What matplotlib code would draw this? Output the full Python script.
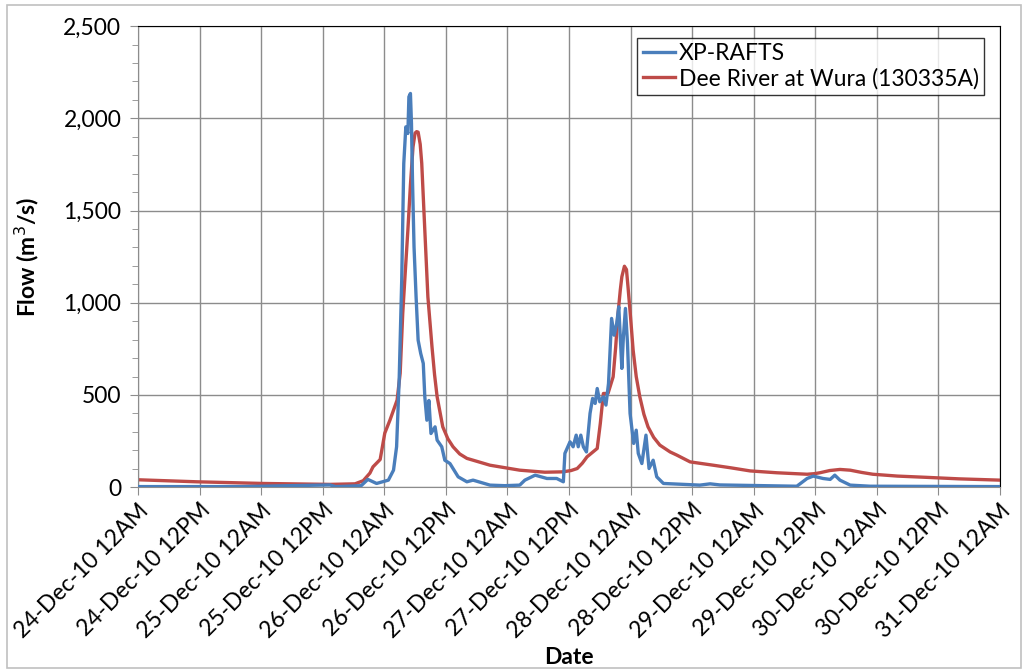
#!/usr/bin/env python3

import matplotlib
matplotlib.use("Agg")
import matplotlib.pyplot as plt
import matplotlib.dates as mdates
from matplotlib.ticker import MultipleLocator, FuncFormatter
from matplotlib.patches import Rectangle
import pandas as pd

plt.rcParams['font.family'] = ['Lato', 'DejaVu Sans']

start = pd.Timestamp("2010-12-24 00:00")

# XP-RAFTS model output (hours since start, flow m3/s)
rafts_hours = [0, 20, 37.4, 38.5, 43.5, 44.8, 46.5, 48.8, 49.8, 50.4, 50.9, 51.4, 51.8,
               52.2, 52.6, 52.8, 53.1, 53.3, 53.5, 53.8, 54.2, 54.6, 55.1, 55.6, 55.9,
               56.3, 56.7, 57.1, 57.9, 58.3, 59.2, 59.8, 60.8, 62.4, 64.1, 65.3, 68.6,
               71.5, 74.4, 75.4, 77.4, 79.7, 81.6, 82.9, 83.2, 84.2, 84.8, 85.4, 85.8,
               86.3, 86.8, 87.4, 88.1, 88.6, 89.1, 89.5, 90.0, 90.7, 91.2, 91.7, 92.3,
               92.8, 93.3, 93.7, 94.3, 94.6, 95.0, 95.4, 95.9, 96.6, 97.1, 97.5, 98.2,
               99.0, 99.6, 100.4, 101.1, 102.4, 109.5, 111.5, 113.4, 128.4, 130.4, 131.6,
               133.5, 134.9, 135.8, 136.8, 138.8, 142.7, 168]
rafts_flow = [3, 3, 12, 3, 8, 42, 20, 38, 92, 219, 580, 1123, 1755,
              1954, 1918, 2117, 2135, 1972, 1665, 1303, 1032, 797, 725, 671, 490,
              363, 470, 291, 327, 255, 219, 146, 128, 56, 29, 38, 11,
              8, 11, 38, 65, 47, 47, 29, 183, 246, 219, 282, 219,
              282, 219, 191, 400, 481, 454, 535, 463, 490, 445, 562, 915,
              824, 888, 978, 644, 815, 969, 779, 400, 237, 309, 183, 128,
              282, 101, 146, 56, 20, 11, 18, 12, 5, 47, 60,
              47, 42, 65, 38, 11, 5, 3]

# Dee River at Wura (130335A) gauge
gauge_hours = [0, 11.5, 24.4, 37.4, 42.3, 43.9, 45.2, 45.8, 47.2, 48.1, 49.1, 50.5,
               51.1, 51.6, 52.1, 52.6, 53.1, 53.6, 54.0, 54.3, 54.6, 55.0, 55.3, 55.9,
               56.5, 57.3, 57.8, 58.3, 59.4, 60.4, 61.4, 62.7, 64.1, 68.6, 74.4, 79.3,
               82.8, 84.4, 85.6, 86.6, 87.5, 89.5, 90.1, 90.7, 91.6, 92.6, 93.1, 93.5,
               94.0, 94.3, 94.8, 95.2, 95.5, 96.0, 96.5, 97.1, 97.8, 98.6, 99.4, 100.5,
               101.7, 103.7, 105.0, 107.6, 112.1, 115.5, 119.3, 124.5, 130.4, 131.8,
               132.9, 134.8, 136.8, 138.8, 141.0, 143.2, 148.0, 153.8, 160.0, 168]
gauge_flow = [40, 29, 20, 15, 18, 35, 76, 110, 150, 293, 363, 472,
              618, 943, 1170, 1394, 1640, 1845, 1920, 1928, 1925, 1860, 1757, 1394,
              1032, 761, 610, 490, 327, 262, 219, 180, 156, 119, 92, 81,
              83, 90, 101, 130, 164, 210, 345, 508, 508, 598, 760, 924,
              1070, 1141, 1198, 1180, 1086, 920, 743, 600, 490, 395, 327, 270,
              228, 191, 174, 137, 119, 105, 88, 78, 70, 73,
              78, 90, 96, 92, 80, 70, 60, 53, 45, 38]

rafts_t = start + pd.to_timedelta(rafts_hours, unit="h")
gauge_t = start + pd.to_timedelta(gauge_hours, unit="h")

fig = plt.figure(figsize=(10.22, 6.71), dpi=100)
ax = fig.add_axes([0.135, 0.274, 0.8435, 0.687])

ax.plot(rafts_t, rafts_flow, color='#4a7ebb', lw=2.4, label='XP-RAFTS', zorder=3)
ax.plot(gauge_t, gauge_flow, color='#be4b48', lw=2.4,
        label='Dee River at Wura (130335A)', zorder=2)

# axes limits and ticks
ax.set_xlim(start, start + pd.Timedelta(hours=168))
ax.set_ylim(0, 2500)
ax.xaxis.set_major_locator(mdates.HourLocator(byhour=[0, 12]))
ax.xaxis.set_major_formatter(mdates.DateFormatter('%d-%b-%y %I%p'))
ax.yaxis.set_major_locator(MultipleLocator(500))
ax.yaxis.set_minor_locator(MultipleLocator(100))
ax.yaxis.set_major_formatter(FuncFormatter(lambda v, p: f'{v:,.0f}'))

ax.grid(True, which='major', color='#8c8c8c', lw=1)
ax.set_axisbelow(True)

for s in ['top', 'right']:
    ax.spines[s].set_color('black')
for s in ['left', 'bottom']:
    ax.spines[s].set_color('#8c8c8c')

ax.tick_params(axis='both', which='major', direction='out', length=6,
               color='#8c8c8c', labelsize=16.5, pad=3)
ax.tick_params(axis='y', which='minor', direction='out', length=4, color='#8c8c8c')
ax.tick_params(axis='y', which='major', pad=6)
plt.setp(ax.get_xticklabels(), rotation=45, ha='right', rotation_mode='anchor')

ax.set_xlabel('Date', fontsize=16.5, fontweight='bold', labelpad=4)
ax.set_ylabel('Flow (m$^3$/s)', fontsize=16.5, fontweight='bold', labelpad=16)

leg = ax.legend(loc='upper right', bbox_to_anchor=(0.995, 1.0), fontsize=16.5,
                frameon=True, fancybox=False, edgecolor='black',
                handlelength=1.4, handletextpad=0.15, borderpad=0.25, labelspacing=0.15)
leg.get_frame().set_linewidth(1)

# chart area border
fig.patches.append(Rectangle((7 / 1022, 3 / 671), 1014 / 1022, 663 / 671,
                             transform=fig.transFigure, fill=False,
                             edgecolor='#c0c0c0', lw=1.2))

fig.savefig('out.png', dpi=100)
